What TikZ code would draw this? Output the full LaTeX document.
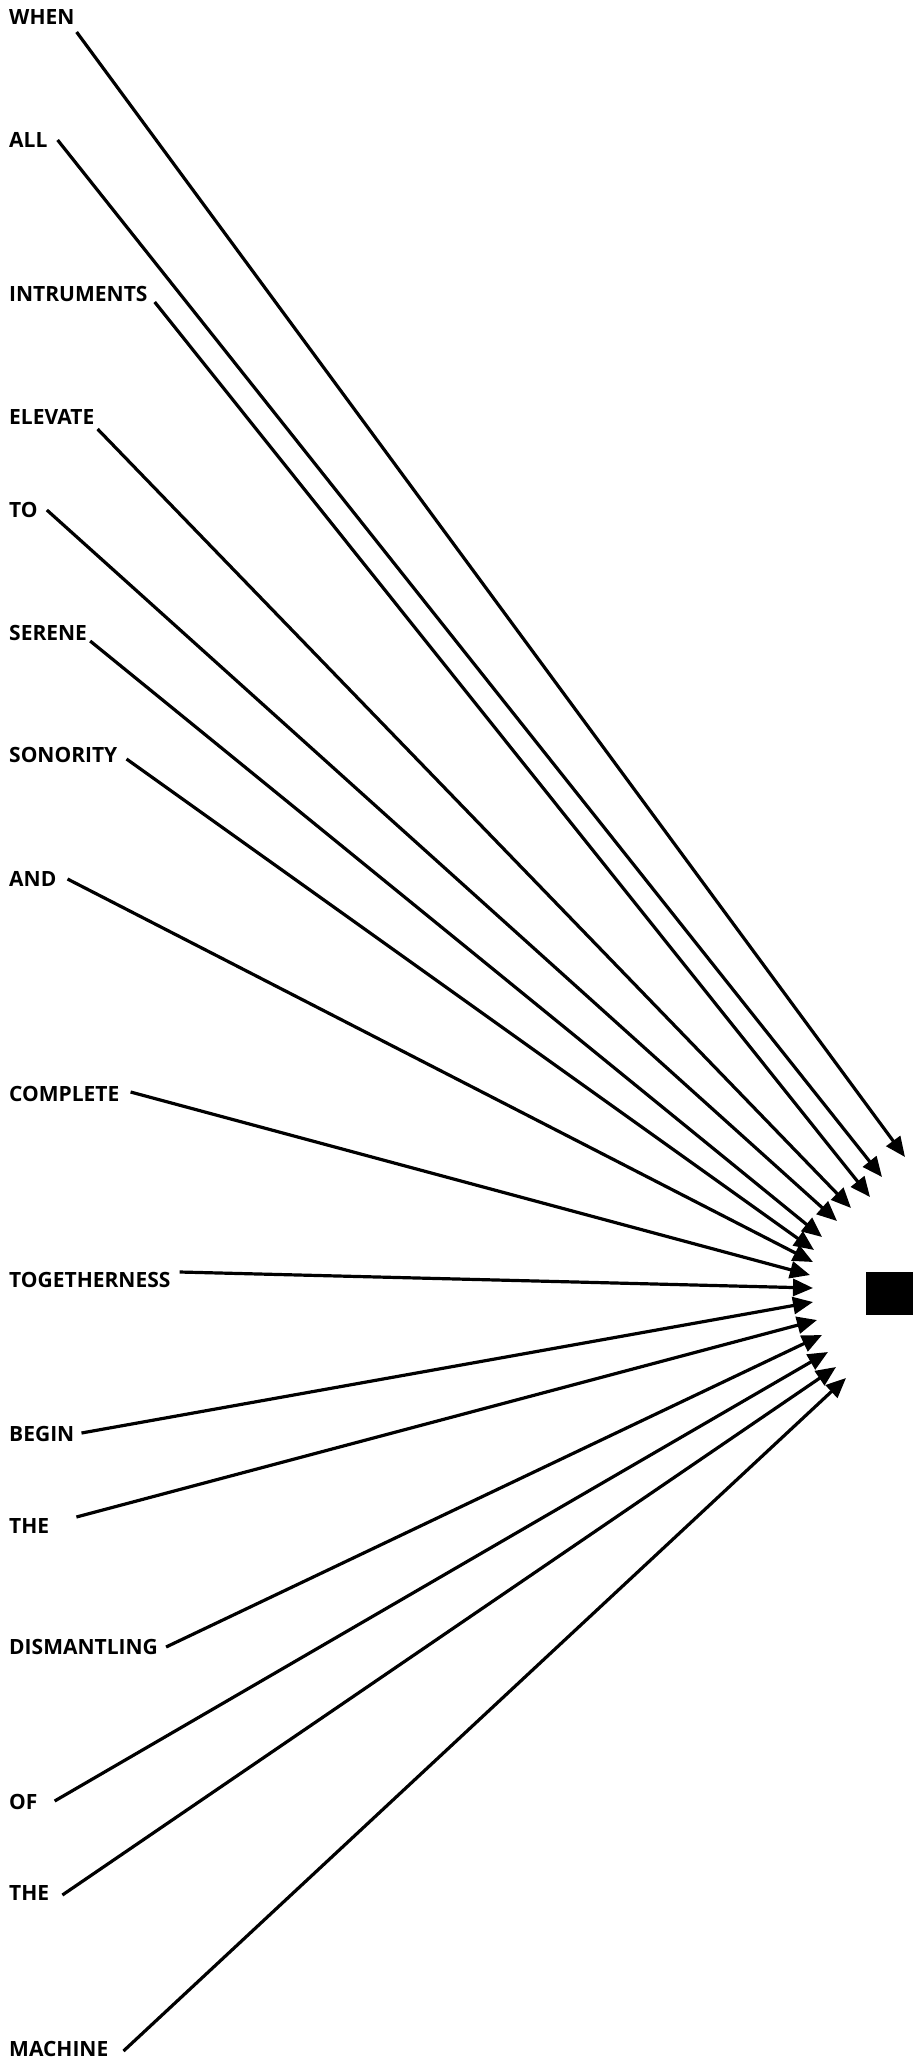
\documentclass[tikz,border=0pt]{standalone}
\usepackage{fontspec}
\setmainfont{Open Sans}
\usetikzlibrary{arrows.meta}

\begin{document}
\begin{tikzpicture}[x=1pt,y=-1pt,inner sep=0pt,
  word/.style={anchor=west,font=\bfseries\fontsize{21}{24}\selectfont},
  arr/.style={line width=3.2pt,-{Triangle[length=20pt,width=17pt]}}]
\useasboundingbox (0,0) rectangle (913,2066);
\node[word] (w01) at (9,17) {WHEN};
\node[word] (w02) at (9,140) {ALL};
\node[word] (w03) at (9,294) {INTRUMENTS};
\node[word] (w04) at (9,417) {ELEVATE};
\node[word] (w05) at (9,510) {TO};
\node[word] (w06) at (9,633) {SERENE};
\node[word] (w07) at (9,755) {SONORITY};
\node[word] (w08) at (9,879) {AND};
\node[word] (w09) at (9,1094) {COMPLETE};
\node[word] (w10) at (9,1280) {TOGETHERNESS};
\node[word] (w11) at (9,1434) {BEGIN};
\node[word] (w12) at (9,1526) {THE};
\node[word] (w13) at (9,1647) {DISMANTLING};
\node[word] (w14) at (9,1802) {OF};
\node[word] (w15) at (9,1893) {THE};
\node[word] (w16) at (9,2049) {MACHINE};

\node[fill=black,minimum width=47pt,minimum height=43pt] (box) at (889.5,1293.5) {};

\coordinate (t01) at (905,1157);
\coordinate (t02) at (882,1177);
\coordinate (t03) at (870,1197);
\coordinate (t04) at (851,1208);
\coordinate (t05) at (837,1221);
\coordinate (t06) at (822,1237);
\coordinate (t07) at (814,1250);
\coordinate (t08) at (813,1262);
\coordinate (t09) at (810,1275);
\coordinate (t10) at (813,1288);
\coordinate (t11) at (813,1302);
\coordinate (t12) at (817,1320);
\coordinate (t13) at (822,1335);
\coordinate (t14) at (828,1352);
\coordinate (t15) at (836,1367);
\coordinate (t16) at (846,1378);

\draw[arr] ([shift={(2,15)}]w01.east) -- (t01);
\draw[arr] ([shift={(10,0)}]w02.east) -- (t02);
\draw[arr] ([shift={(7,8)}]w03.east) -- (t03);
\draw[arr] ([shift={(3,12)}]w04.east) -- (t04);
\draw[arr] ([shift={(9,0)}]w05.east) -- (t05);
\draw[arr] ([shift={(3,8)}]w06.east) -- (t06);
\draw[arr] ([shift={(9,4)}]w07.east) -- (t07);
\draw[arr] ([shift={(11,0)}]w08.east) -- (t08);
\draw[arr] ([shift={(11,-2)}]w09.east) -- (t09);
\draw[arr] ([shift={(9,-8)}]w10.east) -- (t10);
\draw[arr] ([shift={(7,-1)}]w11.east) -- (t11);
\draw[arr] ([shift={(27,-9)}]w12.east) -- (t12);
\draw[arr] ([shift={(8,0)}]w13.east) -- (t13);
\draw[arr] ([shift={(17,-1)}]w14.east) -- (t14);
\draw[arr] ([shift={(13,2)}]w15.east) -- (t15);
\draw[arr] ([shift={(15,2)}]w16.east) -- (t16);
\end{tikzpicture}
\end{document}
